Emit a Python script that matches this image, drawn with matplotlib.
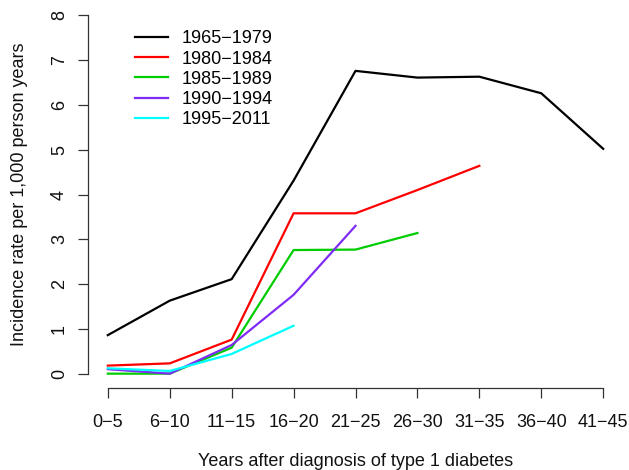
import matplotlib
matplotlib.use("Agg")
import matplotlib.pyplot as plt

plt.rcParams['font.family'] = ['Liberation Sans', 'DejaVu Sans']

# intervalles apres diagnostic
intervals = ['0\u22125', '6\u221210', '11\u221215', '16\u221220', '21\u221225',
             '26\u221230', '31\u221235', '36\u221240', '41\u221245']

periods = ['1965\u22121979', '1980\u22121984', '1985\u22121989', '1990\u22121994', '1995\u22122011']

rate_1965 = [0.86, 1.63, 2.11, 4.31, 6.76, 6.61, 6.63, 6.26, 5.02]
rate_1980 = [0.18, 0.23, 0.76, 3.58, 3.58, 4.10, 4.64]
rate_1985 = [0.00, 0.00, 0.58, 2.76, 2.77, 3.14]
rate_1990 = [0.10, 0.00, 0.64, 1.76, 3.30]
rate_1995 = [0.12, 0.06, 0.44, 1.07]

series = [rate_1965, rate_1980, rate_1985, rate_1990, rate_1995]
colors = ['black', '#FF0000', '#00CD00', '#7F2BF5', '#00FFFF']

fs = 13

fig = plt.figure(figsize=(6.29, 4.70), dpi=100)
ax = fig.add_axes([88/629, 82/470, 535/629, 387/470])

for vals, lab, col in zip(series, periods, colors):
    ax.plot(range(len(vals)), vals, color=col, lw=1.6, label=lab)

ax.set_xlim(-0.32, 8.32)
ax.set_ylim(-0.32, 8.32)

# style R : axes separes, pas de cadre
for side in ['top', 'right']:
    ax.spines[side].set_visible(False)
ax.spines['left'].set_bounds(0, 8)
ax.spines['bottom'].set_bounds(0, 8)
for side in ['left', 'bottom']:
    ax.spines[side].set_color('#333333')
    ax.spines[side].set_linewidth(0.9)

ax.set_xticks(range(len(intervals)))
ax.set_xticklabels(intervals)
ax.set_yticks(range(0, 9))
ax.tick_params(axis='both', direction='out', length=7.5, width=0.9,
               color='#333333', labelsize=fs, labelcolor='#111111')
ax.tick_params(axis='x', pad=11)
ax.tick_params(axis='y', pad=7)
for t in ax.get_yticklabels():
    t.set_rotation(90)
    t.set_va('center')

ax.set_xlabel('Years after diagnosis of type 1 diabetes', fontsize=fs, color='#111111',
              va='center')
ax.set_ylabel('Incidence rate per 1,000 person years', fontsize=fs, color='#111111',
              va='center')
ax.xaxis.set_label_coords(0.5, -0.19)
ax.yaxis.set_label_coords(-0.128, 0.5)

ax.legend(loc='upper left', bbox_to_anchor=(0.075, 0.943), frameon=False,
          fontsize=fs, handlelength=1.8, handletextpad=0.75, labelspacing=0.18,
          borderaxespad=0)

fig.savefig('out.png', dpi=100)
